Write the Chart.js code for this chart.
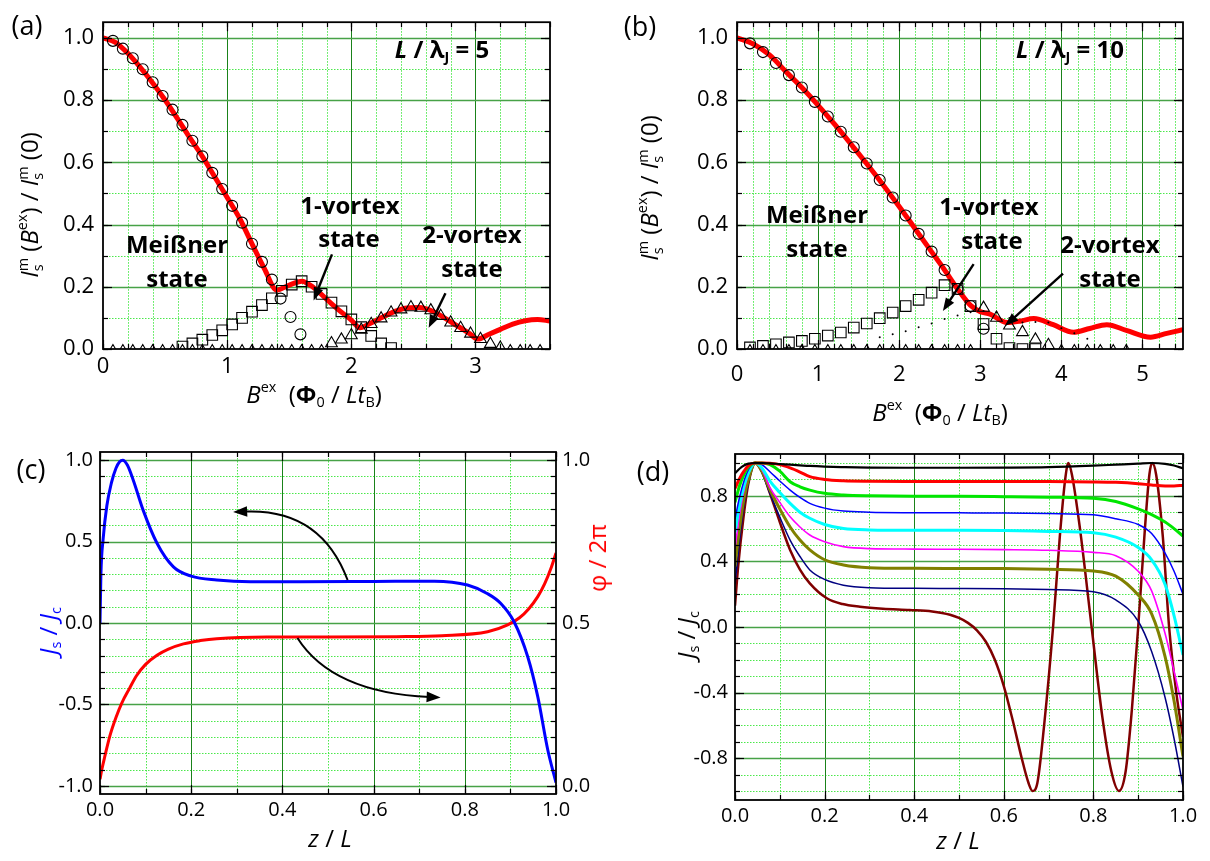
<!DOCTYPE html>
<html>
<head>
<meta charset="utf-8">
<title>Josephson junction critical current</title>
<script src="https://cdn.jsdelivr.net/npm/chart.js@4.4.1/dist/chart.umd.min.js"></script>
<style>
  body { margin: 0; background: #fff; }
  #page { position: relative; width: 1210px; height: 861px; overflow: hidden; font-family: "Open Sans", sans-serif; color: #000; }
  canvas { position: absolute; }
  .t { position: absolute; white-space: nowrap; transform: translate(-50%, -50%); line-height: 1; }
  .rot { transform: translate(-50%, -50%) rotate(-90deg); }
  .lab { font-size: 27px; }
  .ttl { font-size: 24px; }
  .note { font-size: 24px; font-weight: bold; }
  sup, sub { font-size: 0.6em; line-height: 0; }
  sup { vertical-align: 0.75em; }
  sub { vertical-align: -0.3em; }
  .ss { display: inline-block; font-size: 0.6em; line-height: 1.05; vertical-align: -0.35em; font-style: normal; }
  .ss b { display: block; font-weight: normal; }
</style>
</head>
<body>
<div id="page">
  <canvas id="chartA" width="605" height="430" style="left:0;top:0;width:605px;height:430px"></canvas>
  <canvas id="chartB" width="605" height="430" style="left:605px;top:0;width:605px;height:430px"></canvas>
  <canvas id="chartC" width="630" height="431" style="left:0;top:430px;width:630px;height:431px"></canvas>
  <canvas id="chartD" width="580" height="431" style="left:630px;top:430px;width:580px;height:431px"></canvas>

  <!-- panel letters -->
  <div class="t lab" style="left:27px;top:24px">(a)</div>
  <div class="t lab" style="left:640px;top:25px">(b)</div>
  <div class="t lab" style="left:31px;top:468px">(c)</div>
  <div class="t lab" style="left:653px;top:470px">(d)</div>

  <!-- axis titles -->
  <div class="t ttl rot" style="left:30px;top:205px"><i>I</i><span class="ss"><b>m</b><b>s</b></span> (<i>B</i><sup>ex</sup>) / <i>I</i><span class="ss"><b>m</b><b>s</b></span> (0)</div>
  <div class="t ttl" style="left:314px;top:394px"><i>B</i><sup>ex</sup>&nbsp; (<b>&Phi;</b><sub>0</sub> / <i>Lt</i><sub>B</sub>)</div>
  <div class="t ttl rot" style="left:650px;top:188px"><i>I</i><span class="ss"><b>m</b><b>s</b></span> (<i>B</i><sup>ex</sup>) / <i>I</i><span class="ss"><b>m</b><b>s</b></span> (0)</div>
  <div class="t ttl" style="left:940px;top:412px"><i>B</i><sup>ex</sup>&nbsp; (<b>&Phi;</b><sub>0</sub> / <i>Lt</i><sub>B</sub>)</div>
  <div class="t ttl rot" style="left:48px;top:631px;color:#0000ff"><i>J</i><sub>s</sub> / <i>J</i><sub>c</sub></div>
  <div class="t ttl rot" style="left:597px;top:558px;color:#ff0000">&phi; / 2&pi;</div>
  <div class="t ttl" style="left:330px;top:838px"><i>z</i> / <i>L</i></div>
  <div class="t ttl rot" style="left:686px;top:635px"><i>J</i><sub>s</sub> / <i>J</i><sub>c</sub></div>
  <div class="t ttl" style="left:958px;top:840px"><i>z</i> / <i>L</i></div>

  <!-- in-plot notes -->
  <div class="t note" style="left:442px;top:49px"><i>L</i> / &lambda;<sub>J</sub> = 5</div>
  <div class="t note" style="left:177px;top:244px">Meißner</div>
  <div class="t note" style="left:177px;top:278px">state</div>
  <div class="t note" style="left:350px;top:205px">1-vortex</div>
  <div class="t note" style="left:349px;top:238px">state</div>
  <div class="t note" style="left:472px;top:234px">2-vortex</div>
  <div class="t note" style="left:472px;top:268px">state</div>

  <div class="t note" style="left:1070px;top:49px"><i>L</i> / &lambda;<sub>J</sub> = 10</div>
  <div class="t note" style="left:817px;top:214px">Meißner</div>
  <div class="t note" style="left:817px;top:248px">state</div>
  <div class="t note" style="left:989px;top:206px">1-vortex</div>
  <div class="t note" style="left:992px;top:240px">state</div>
  <div class="t note" style="left:1110px;top:244px">2-vortex</div>
  <div class="t note" style="left:1110px;top:278px">state</div>
</div>

<script>
// ---------- data: panel (a), L / lambda_J = 5 ----------
var circAx = [0.08, 0.16, 0.24, 0.32, 0.40, 0.48, 0.56, 0.64, 0.72, 0.80, 0.88, 0.96, 1.04, 1.12, 1.20, 1.28, 1.36, 1.43, 1.51, 1.59];
var circAy = [0.990, 0.965, 0.934, 0.899, 0.857, 0.813, 0.769, 0.720, 0.669, 0.619, 0.566, 0.514, 0.460, 0.406, 0.338, 0.280, 0.223, 0.162, 0.103, 0.047];

var sqAx = [0.64, 0.72, 0.80, 0.88, 0.96, 1.04, 1.12, 1.20, 1.28, 1.36, 1.44, 1.52, 1.60, 1.68, 1.76, 1.84, 1.92, 2.00, 2.08, 2.16, 2.24, 2.32];
var sqAy = [0.008, 0.018, 0.030, 0.045, 0.060, 0.079, 0.100, 0.120, 0.141, 0.163, 0.187, 0.207, 0.218, 0.200, 0.177, 0.149, 0.121, 0.095, 0.070, 0.042, 0.018, 0.003];

var triAx = [0.08, 0.16, 0.24, 0.32, 0.40, 0.48, 0.56, 0.64, 0.72, 0.80, 0.88, 0.96, 1.04, 1.12, 1.20, 1.28, 1.36, 1.44, 1.52, 1.60, 1.68, 1.76,
             1.84, 1.92, 2.00, 2.08, 2.16, 2.24, 2.32, 2.40, 2.48, 2.56, 2.64, 2.72, 2.80, 2.88, 2.96, 3.04, 3.12, 3.20, 3.28, 3.36, 3.44, 3.52];
var triAy = [0, 0, 0, 0, 0, 0, 0, 0, 0, 0, 0, 0, 0, 0, 0, 0, 0, 0, 0, 0, 0, 0,
             0.018, 0.030, 0.044, 0.062, 0.080, 0.098, 0.117, 0.127, 0.134, 0.132, 0.124, 0.106, 0.085, 0.067, 0.049, 0.032, 0.016, 0.004, 0, 0, 0, 0];

var lineAx = [0, 0.1, 0.2, 0.3, 0.4, 0.5, 0.6, 0.7, 0.8, 0.9, 1.0, 1.1, 1.2, 1.3, 1.4, 1.47, 1.53, 1.6, 1.7, 1.8, 1.9, 2.0, 2.07,
              2.15, 2.25, 2.35, 2.45, 2.55, 2.65, 2.75, 2.85, 2.95, 3.02, 3.1, 3.2, 3.3, 3.4, 3.5, 3.6];
var lineAy = [1.0, 0.985, 0.950, 0.905, 0.855, 0.800, 0.740, 0.678, 0.619, 0.553, 0.487, 0.420, 0.338, 0.258, 0.189, 0.200, 0.210, 0.218, 0.196, 0.160, 0.125, 0.093, 0.068,
              0.082, 0.102, 0.121, 0.132, 0.133, 0.122, 0.100, 0.075, 0.050, 0.032, 0.046, 0.063, 0.080, 0.091, 0.095, 0.090];

var ticksAx = [0, 1, 2, 3];
var ticksAy = [0, 0.2, 0.4, 0.6, 0.8, 1.0];

// ---------- data: panel (b), L / lambda_J = 10 ----------
var circBx = [0.16, 0.32, 0.48, 0.64, 0.80, 0.96, 1.12, 1.28, 1.44, 1.60, 1.76, 1.92, 2.08, 2.24, 2.40, 2.56, 2.72, 2.88, 3.04];
var circBy = [0.982, 0.954, 0.919, 0.880, 0.840, 0.794, 0.747, 0.698, 0.648, 0.596, 0.543, 0.487, 0.429, 0.370, 0.313, 0.254, 0.193, 0.138, 0.065];

var sqBx = [0.16, 0.32, 0.48, 0.64, 0.80, 0.96, 1.12, 1.28, 1.44, 1.60, 1.76, 1.92, 2.08, 2.24, 2.40, 2.56, 2.72, 2.88, 3.04, 3.20, 3.36, 3.52, 3.68];
var sqBy = [0.005, 0.010, 0.015, 0.021, 0.026, 0.033, 0.043, 0.053, 0.069, 0.082, 0.099, 0.117, 0.138, 0.158, 0.181, 0.205, 0.193, 0.138, 0.080, 0.033, 0.003, 0, 0];

var triBx = [0.16, 0.32, 0.48, 0.64, 0.80, 0.96, 1.12, 1.28, 1.44, 1.60, 1.76, 1.92, 2.08, 2.24, 2.40, 2.56, 2.72, 2.88,
             3.04, 3.20, 3.36, 3.52, 3.68, 3.84, 4.00, 4.16, 4.32, 4.48, 4.64, 4.80];
var triBy = [0, 0, 0, 0, 0, 0, 0, 0, 0, 0, 0, 0, 0, 0, 0, 0, 0, 0,
             0.132, 0.100, 0.075, 0.054, 0.030, 0.0125, 0, 0, 0, 0, 0, 0];

var dotBx = [1.76, 1.92, 2.08, 2.24, 2.40, 2.56, 2.72, 2.88, 3.04, 3.20, 3.36, 3.52, 3.68, 3.84, 4.00, 4.16, 4.32];
var dotBy = [0.038, 0.047, 0.057, 0.070, 0.082, 0.096, 0.108, 0.118, 0.122, 0.118, 0.100, 0.085, 0.087, 0.085, 0.067, 0.051, 0.033];

var lineBx = [0, 0.2, 0.4, 0.6, 0.8, 1.0, 1.2, 1.4, 1.6, 1.8, 2.0, 2.2, 2.4, 2.56, 2.72, 2.88, 3.0, 3.12, 3.33, 3.5, 3.66,
              3.9, 4.15, 4.35, 4.56, 4.8, 5.1, 5.3, 5.5];
var lineBy = [1.0, 0.980, 0.945, 0.892, 0.840, 0.783, 0.723, 0.660, 0.595, 0.528, 0.458, 0.385, 0.312, 0.254, 0.193, 0.140, 0.120, 0.112, 0.085, 0.090, 0.098,
              0.078, 0.054, 0.066, 0.078, 0.060, 0.038, 0.050, 0.062];

var ticksBx = [0, 1, 2, 3, 4, 5];
var ticksBy = [0, 0.2, 0.4, 0.6, 0.8, 1.0];

// ---------- data: panel (c), current and phase profiles ----------
var zJ = [0, 0.002, 0.007, 0.015, 0.025, 0.035, 0.043, 0.05, 0.06, 0.073, 0.095, 0.125, 0.161, 0.2, 0.256, 0.33, 0.44, 0.6, 0.733, 0.806, 0.85, 0.879, 0.908, 0.938, 0.96, 0.982, 1.0];
var jsC = [0, 0.30, 0.52, 0.72, 0.86, 0.95, 0.99, 1.0, 0.97, 0.877, 0.69, 0.49, 0.345, 0.288, 0.264, 0.253, 0.253, 0.255, 0.257, 0.233, 0.18, 0.12, 0.008, -0.207, -0.452, -0.78, -0.98];
var zPhi = [0, 0.004, 0.01, 0.022, 0.035, 0.048, 0.065, 0.08, 0.1, 0.125, 0.15, 0.183, 0.22, 0.256, 0.366, 0.5, 0.65, 0.75, 0.85, 0.894, 0.92, 0.94, 0.96, 0.975, 0.99, 1.0];
var phiC = [0.02, 0.05, 0.087, 0.155, 0.21, 0.255, 0.30, 0.338, 0.373, 0.401, 0.42, 0.436, 0.446, 0.452, 0.457, 0.457, 0.458, 0.461, 0.473, 0.494, 0.516, 0.543, 0.581, 0.62, 0.672, 0.715];

var ticksCx = [0, 0.2, 0.4, 0.6, 0.8, 1.0];
var ticksCy = [-1.0, -0.5, 0, 0.5, 1.0];
var ticksCy2 = [0, 0.5, 1.0];

// ---------- data: panel (d), current profiles for growing field ----------
var zD = [0, 0.01, 0.02, 0.03, 0.045, 0.06, 0.078, 0.1, 0.123, 0.145, 0.167, 0.2, 0.242, 0.3, 0.4, 0.5, 0.6, 0.7, 0.8, 0.85, 0.9, 0.93, 0.96, 0.98, 1.0];
var jBlack   = [0.937, 0.965, 0.985, 0.996, 1.0, 1.0, 0.998, 0.994, 0.99, 0.986, 0.982, 0.978, 0.975, 0.972, 0.971, 0.971, 0.972, 0.975, 0.984, 0.99, 0.996, 1.0, 0.995, 0.985, 0.967];
var jRed     = [0.845, 0.905, 0.95, 0.985, 1.0, 1.0, 0.998, 0.99, 0.97, 0.945, 0.917, 0.9, 0.892, 0.889, 0.888, 0.888, 0.887, 0.887, 0.885, 0.882, 0.874, 0.866, 0.86, 0.86, 0.865];
var jGreen   = [0.76, 0.86, 0.93, 0.975, 1.0, 1.0, 0.99, 0.95, 0.886, 0.855, 0.835, 0.815, 0.805, 0.8, 0.797, 0.797, 0.795, 0.792, 0.785, 0.765, 0.72, 0.685, 0.64, 0.6, 0.555];
var jBlue    = [0.66, 0.79, 0.89, 0.96, 1.0, 0.99, 0.947, 0.89, 0.835, 0.79, 0.754, 0.725, 0.707, 0.7, 0.697, 0.696, 0.695, 0.692, 0.684, 0.66, 0.625, 0.57, 0.45, 0.34, 0.2];
var jCyan    = [0.58, 0.74, 0.86, 0.94, 1.0, 0.97, 0.89, 0.82, 0.754, 0.7, 0.663, 0.625, 0.6, 0.592, 0.59, 0.59, 0.588, 0.583, 0.575, 0.548, 0.485, 0.41, 0.26, 0.07, -0.17];
var jMagenta = [0.48, 0.68, 0.83, 0.93, 1.0, 0.96, 0.85, 0.76, 0.672, 0.61, 0.561, 0.52, 0.49, 0.478, 0.475, 0.474, 0.472, 0.468, 0.455, 0.435, 0.34, 0.22, -0.04, -0.27, -0.506];
var jOlive   = [0.37, 0.6, 0.78, 0.9, 1.0, 0.95, 0.837, 0.72, 0.61, 0.53, 0.47, 0.41, 0.378, 0.362, 0.358, 0.357, 0.356, 0.352, 0.342, 0.31, 0.195, 0.08, -0.18, -0.45, -0.79];
var jNavy    = [0.26, 0.52, 0.74, 0.88, 1.0, 0.94, 0.815, 0.67, 0.53, 0.43, 0.348, 0.29, 0.255, 0.24, 0.236, 0.235, 0.233, 0.228, 0.215, 0.165, 0.035, -0.15, -0.43, -0.68, -0.974];

var zBrown = [0, 0.007, 0.019, 0.03, 0.046, 0.06, 0.078, 0.1, 0.123, 0.145, 0.167, 0.205, 0.24, 0.279, 0.33, 0.39, 0.44, 0.48, 0.5, 0.52,
              0.54, 0.56, 0.58, 0.6, 0.62, 0.64, 0.655, 0.664, 0.675, 0.69, 0.71, 0.725, 0.737, 0.744, 0.752, 0.77, 0.796, 0.82, 0.84, 0.857,
              0.872, 0.886, 0.9, 0.915, 0.925, 0.931, 0.94, 0.955, 0.969, 0.985, 1.0];
var jBrown = [0.13, 0.368, 0.67, 0.876, 1.0, 0.95, 0.815, 0.64, 0.47, 0.35, 0.266, 0.175, 0.14, 0.124, 0.112, 0.104, 0.095, 0.075, 0.055, 0.025,
              -0.02, -0.09, -0.2, -0.36, -0.57, -0.8, -0.95, -1.0, -0.95, -0.6, 0.0, 0.55, 0.9, 1.0, 0.93, 0.6, 0.0, -0.55, -0.88, -1.0,
              -0.88, -0.5, 0.0, 0.6, 0.93, 1.0, 0.93, 0.55, 0.0, -0.4, -0.67];

var ticksDx = [0, 0.2, 0.4, 0.6, 0.8, 1.0];
var ticksDy = [-0.8, -0.4, 0, 0.4, 0.8];


// ---------- helpers ----------
function pts(xs, ys) {
    return xs.map(function (x, i) { return {x: x, y: ys[i]}; });
}

function fixedTicks(values) {
    return function (scale) {
        scale.ticks = values.map(function (v) { return {value: v}; });
    };
}

function fixSize(px) {
    return function (scale) {
        if (scale.isHorizontal()) scale.height = px; else scale.width = px;
    };
}

function gridSteps(scale, step) {
    var out = [];
    var i0 = Math.ceil(scale.min / step - 1e-6), i1 = Math.floor(scale.max / step + 1e-6);
    for (var i = i0; i <= i1; i++) out.push(i * step);
    return out;
}

// Origin-like frame: dotted minor grid, solid major grid, inward ticks on all sides
function framePlugin(g) {
    return {
        id: 'frame',
        beforeDatasetsDraw: function (chart) {
            var ctx = chart.ctx, a = chart.chartArea, sx = chart.scales.x, sy = chart.scales.y;
            function vline(v) {
                var p = Math.round(sx.getPixelForValue(v)) + 0.5;
                if (p < a.left + 1 || p > a.right - 1) return;
                ctx.beginPath(); ctx.moveTo(p, a.top); ctx.lineTo(p, a.bottom); ctx.stroke();
            }
            function hline(v) {
                var p = Math.round(sy.getPixelForValue(v)) + 0.5;
                if (p < a.top + 1 || p > a.bottom - 1) return;
                ctx.beginPath(); ctx.moveTo(a.left, p); ctx.lineTo(a.right, p); ctx.stroke();
            }
            ctx.save();
            ctx.lineWidth = 1;
            ctx.setLineDash([1.5, 1.5]);
            ctx.strokeStyle = '#4be84b';
            gridSteps(sx, g.xMinor).forEach(vline);
            gridSteps(sy, g.yMinor).forEach(hline);
            ctx.setLineDash([]);
            ctx.strokeStyle = '#1a821a';
            gridSteps(sx, g.xMajor).forEach(vline);
            ctx.strokeStyle = '#47a247';
            ctx.lineWidth = 1.4;
            gridSteps(sy, g.yMajor).forEach(hline);
            ctx.restore();
        },
        afterDatasetsDraw: function (chart) {
            var ctx = chart.ctx, a = chart.chartArea, sx = chart.scales.x, sy = chart.scales.y;
            var sr = chart.scales[g.right || 'y'];
            var rMajor = g.rMajor || g.yMajor, rMinor = g.rMinor || g.yMinor;
            ctx.save();
            ctx.strokeStyle = '#000';
            ctx.lineWidth = 1.2;
            function xt(step, len) {
                gridSteps(sx, step).forEach(function (v) {
                    var p = Math.round(sx.getPixelForValue(v)) + 0.5;
                    ctx.beginPath();
                    ctx.moveTo(p, a.bottom); ctx.lineTo(p, a.bottom - len);
                    ctx.moveTo(p, a.top); ctx.lineTo(p, a.top + len);
                    ctx.stroke();
                });
            }
            function yt(scale, step, len, side) {
                gridSteps(scale, step).forEach(function (v) {
                    var p = Math.round(scale.getPixelForValue(v)) + 0.5;
                    ctx.beginPath();
                    if (side === 'left') { ctx.moveTo(a.left, p); ctx.lineTo(a.left + len, p); }
                    else { ctx.moveTo(a.right, p); ctx.lineTo(a.right - len, p); }
                    ctx.stroke();
                });
            }
            xt(g.xMinor, 5); xt(g.xMajor, 9);
            yt(sy, g.yMinor, 5, 'left'); yt(sy, g.yMajor, 9, 'left');
            yt(sr, rMinor, 5, 'right'); yt(sr, rMajor, 9, 'right');
            ctx.lineWidth = 1.8;
            ctx.strokeRect(a.left, a.top, a.right - a.left, a.bottom - a.top);
            ctx.restore();
        }
    };
}

// black annotation arrows, given in data coordinates
function arrowPlugin(list) {
    return {
        id: 'arrows',
        afterDatasetsDraw: function (chart) {
            var ctx = chart.ctx, sx = chart.scales.x;
            list.forEach(function (ar) {
                var sy = chart.scales[ar.axis || 'y'];
                function P(p) { return [sx.getPixelForValue(p[0]), sy.getPixelForValue(p[1])]; }
                var f = P(ar.from), t = P(ar.to), c = ar.ctrl ? P(ar.ctrl) : null;
                var d = c ? [t[0] - c[0], t[1] - c[1]] : [t[0] - f[0], t[1] - f[1]];
                var len = Math.sqrt(d[0] * d[0] + d[1] * d[1]);
                var ux = d[0] / len, uy = d[1] / len;
                var hl = ar.head || 13, hw = hl * 0.38;
                var bx = t[0] - ux * hl * 0.8, by = t[1] - uy * hl * 0.8;
                ctx.save();
                ctx.strokeStyle = '#000';
                ctx.fillStyle = '#000';
                ctx.lineWidth = ar.width || 2.4;
                ctx.beginPath();
                ctx.moveTo(f[0], f[1]);
                if (c) ctx.quadraticCurveTo(c[0], c[1], bx, by); else ctx.lineTo(bx, by);
                ctx.stroke();
                var hx = t[0] - ux * hl, hy = t[1] - uy * hl;
                ctx.beginPath();
                ctx.moveTo(t[0], t[1]);
                ctx.lineTo(hx - uy * hw, hy + ux * hw);
                ctx.lineTo(hx + uy * hw, hy - ux * hw);
                ctx.closePath();
                ctx.fill();
                ctx.restore();
            });
        }
    };
}

function axis(min, max, ticks, dec, size, pad, fs, position) {
    return {
        type: 'linear',
        position: position,
        min: min,
        max: max,
        grid: {display: false, drawTicks: false},
        border: {display: false},
        afterBuildTicks: fixedTicks(ticks),
        afterFit: fixSize(size),
        ticks: {
            autoSkip: false,
            maxRotation: 0,
            padding: pad,
            color: '#000',
            font: {family: '"Open Sans"', size: fs},
            callback: function (v) { return Number(v).toFixed(dec); }
        }
    };
}

function markers(xs, ys, style, radius) {
    return {
        data: pts(xs, ys),
        pointStyle: style,
        pointRadius: radius,
        pointBorderColor: '#000',
        pointBorderWidth: 1.1,
        pointBackgroundColor: 'rgba(0,0,0,0)',
        showLine: false
    };
}

function curve(xs, ys, color, width, axisId) {
    return {
        data: pts(xs, ys),
        showLine: true,
        pointRadius: 0,
        borderColor: color,
        borderWidth: width,
        cubicInterpolationMode: 'monotone',
        yAxisID: axisId || 'y'
    };
}

function makeChart(id, datasets, scales, padding, frame, arrows) {
    return new Chart(document.getElementById(id), {
        type: 'scatter',
        data: {datasets: datasets},
        options: {
            responsive: false,
            animation: false,
            events: [],
            layout: {padding: padding},
            plugins: {legend: {display: false}, tooltip: {enabled: false}},
            scales: scales
        },
        plugins: [framePlugin(frame), arrowPlugin(arrows)]
    });
}

// baseline markers (value 0) are drawn a little smaller
function triRadius(ctx) { return ctx.raw && ctx.raw.y === 0 ? 4.5 : 6.8; }

// ---------- panel (a) ----------
var triA = markers(triAx, triAy, 'triangle', 6.8);
triA.pointRadius = triRadius;
makeChart('chartA', [
    markers(circAx, circAy, 'circle', 5.5),
    markers(sqAx, sqAy, 'rect', 7.5),
    triA,
    curve(lineAx, lineAy, '#ff0000', 5)
], {
    x: axis(0, 3.6, ticksAx, 0, 81, 5, 22),
    y: axis(0, 1.05, ticksAy, 1, 103, 9, 22)
}, {top: 13, right: 55, left: 0, bottom: 0},
{xMinor: 0.2, xMajor: 1, yMinor: 0.1, yMajor: 0.2},
[{from: [1.844, 0.304], to: [1.696, 0.156]}, {from: [2.758, 0.179], to: [2.623, 0.068]}]);

// ---------- panel (b) ----------
var triB = markers(triBx, triBy, 'triangle', 6.8);
triB.pointRadius = triRadius;
var dotsB = markers(dotBx, dotBy, 'circle', 1);
dotsB.pointBackgroundColor = '#000';
dotsB.pointBorderWidth = 0;
makeChart('chartB', [
    markers(circBx, circBy, 'circle', 5.5),
    markers(sqBx, sqBy, 'rect', 7.5),
    triB,
    dotsB,
    curve(lineBx, lineBy, '#ff0000', 5)
], {
    x: axis(0, 5.5, ticksBx, 0, 81, 13, 22),
    y: axis(0, 1.05, ticksBy, 1, 132, 9, 22)
}, {top: 13, right: 27, left: 0, bottom: 0},
{xMinor: 0.2, xMajor: 1, yMinor: 0.1, yMajor: 0.2},
[{from: [2.918, 0.273], to: [2.539, 0.122]}, {from: [4.02, 0.242], to: [3.31, 0.075]}]);

// ---------- panel (c) ----------
makeChart('chartC', [
    curve(zJ, jsC, '#0000ff', 3),
    curve(zPhi, phiC, '#ff0000', 3, 'y2')
], {
    x: axis(0, 1, ticksCx, 1, 67, 4, 20),
    y: axis(-1.05, 1.05, ticksCy, 1, 100, 7, 20),
    y2: axis(-0.025, 1.025, ticksCy2, 1, 74, 6, 20, 'right')
}, {top: 22, right: 0, left: 0, bottom: 0},
{xMinor: 0.1, xMajor: 0.2, yMinor: 0.1, yMajor: 0.5, right: 'y2', rMinor: 0.05, rMajor: 0.5},
[{from: [0.543, 0.264], ctrl: [0.4835, 0.706], to: [0.292, 0.681], width: 2, head: 14},
 {from: [0.433, -0.092], ctrl: [0.509, -0.427], to: [0.747, -0.458], width: 2, head: 14}]);

// ---------- panel (d) ----------
makeChart('chartD', [
    curve(zD, jBlack, '#000000', 2.2),
    curve(zD, jRed, '#ff0000', 3),
    curve(zD, jGreen, '#00e600', 3),
    curve(zD, jBlue, '#0000ff', 1.5),
    curve(zD, jCyan, '#00ffff', 3),
    curve(zD, jMagenta, '#ff00ff', 1.6),
    curve(zD, jOlive, '#808000', 3),
    curve(zD, jNavy, '#000080', 1.5),
    curve(zBrown, jBrown, '#800000', 2.5)
], {
    x: axis(0, 1, ticksDx, 1, 61, 4, 20),
    y: axis(-1.055, 1.055, ticksDy, 1, 105, 7, 20)
}, {top: 24, right: 27, left: 0, bottom: 0},
{xMinor: 0.1, xMajor: 0.2, yMinor: 0.1, yMajor: 0.4},
[]);
</script>
</body>
</html>
